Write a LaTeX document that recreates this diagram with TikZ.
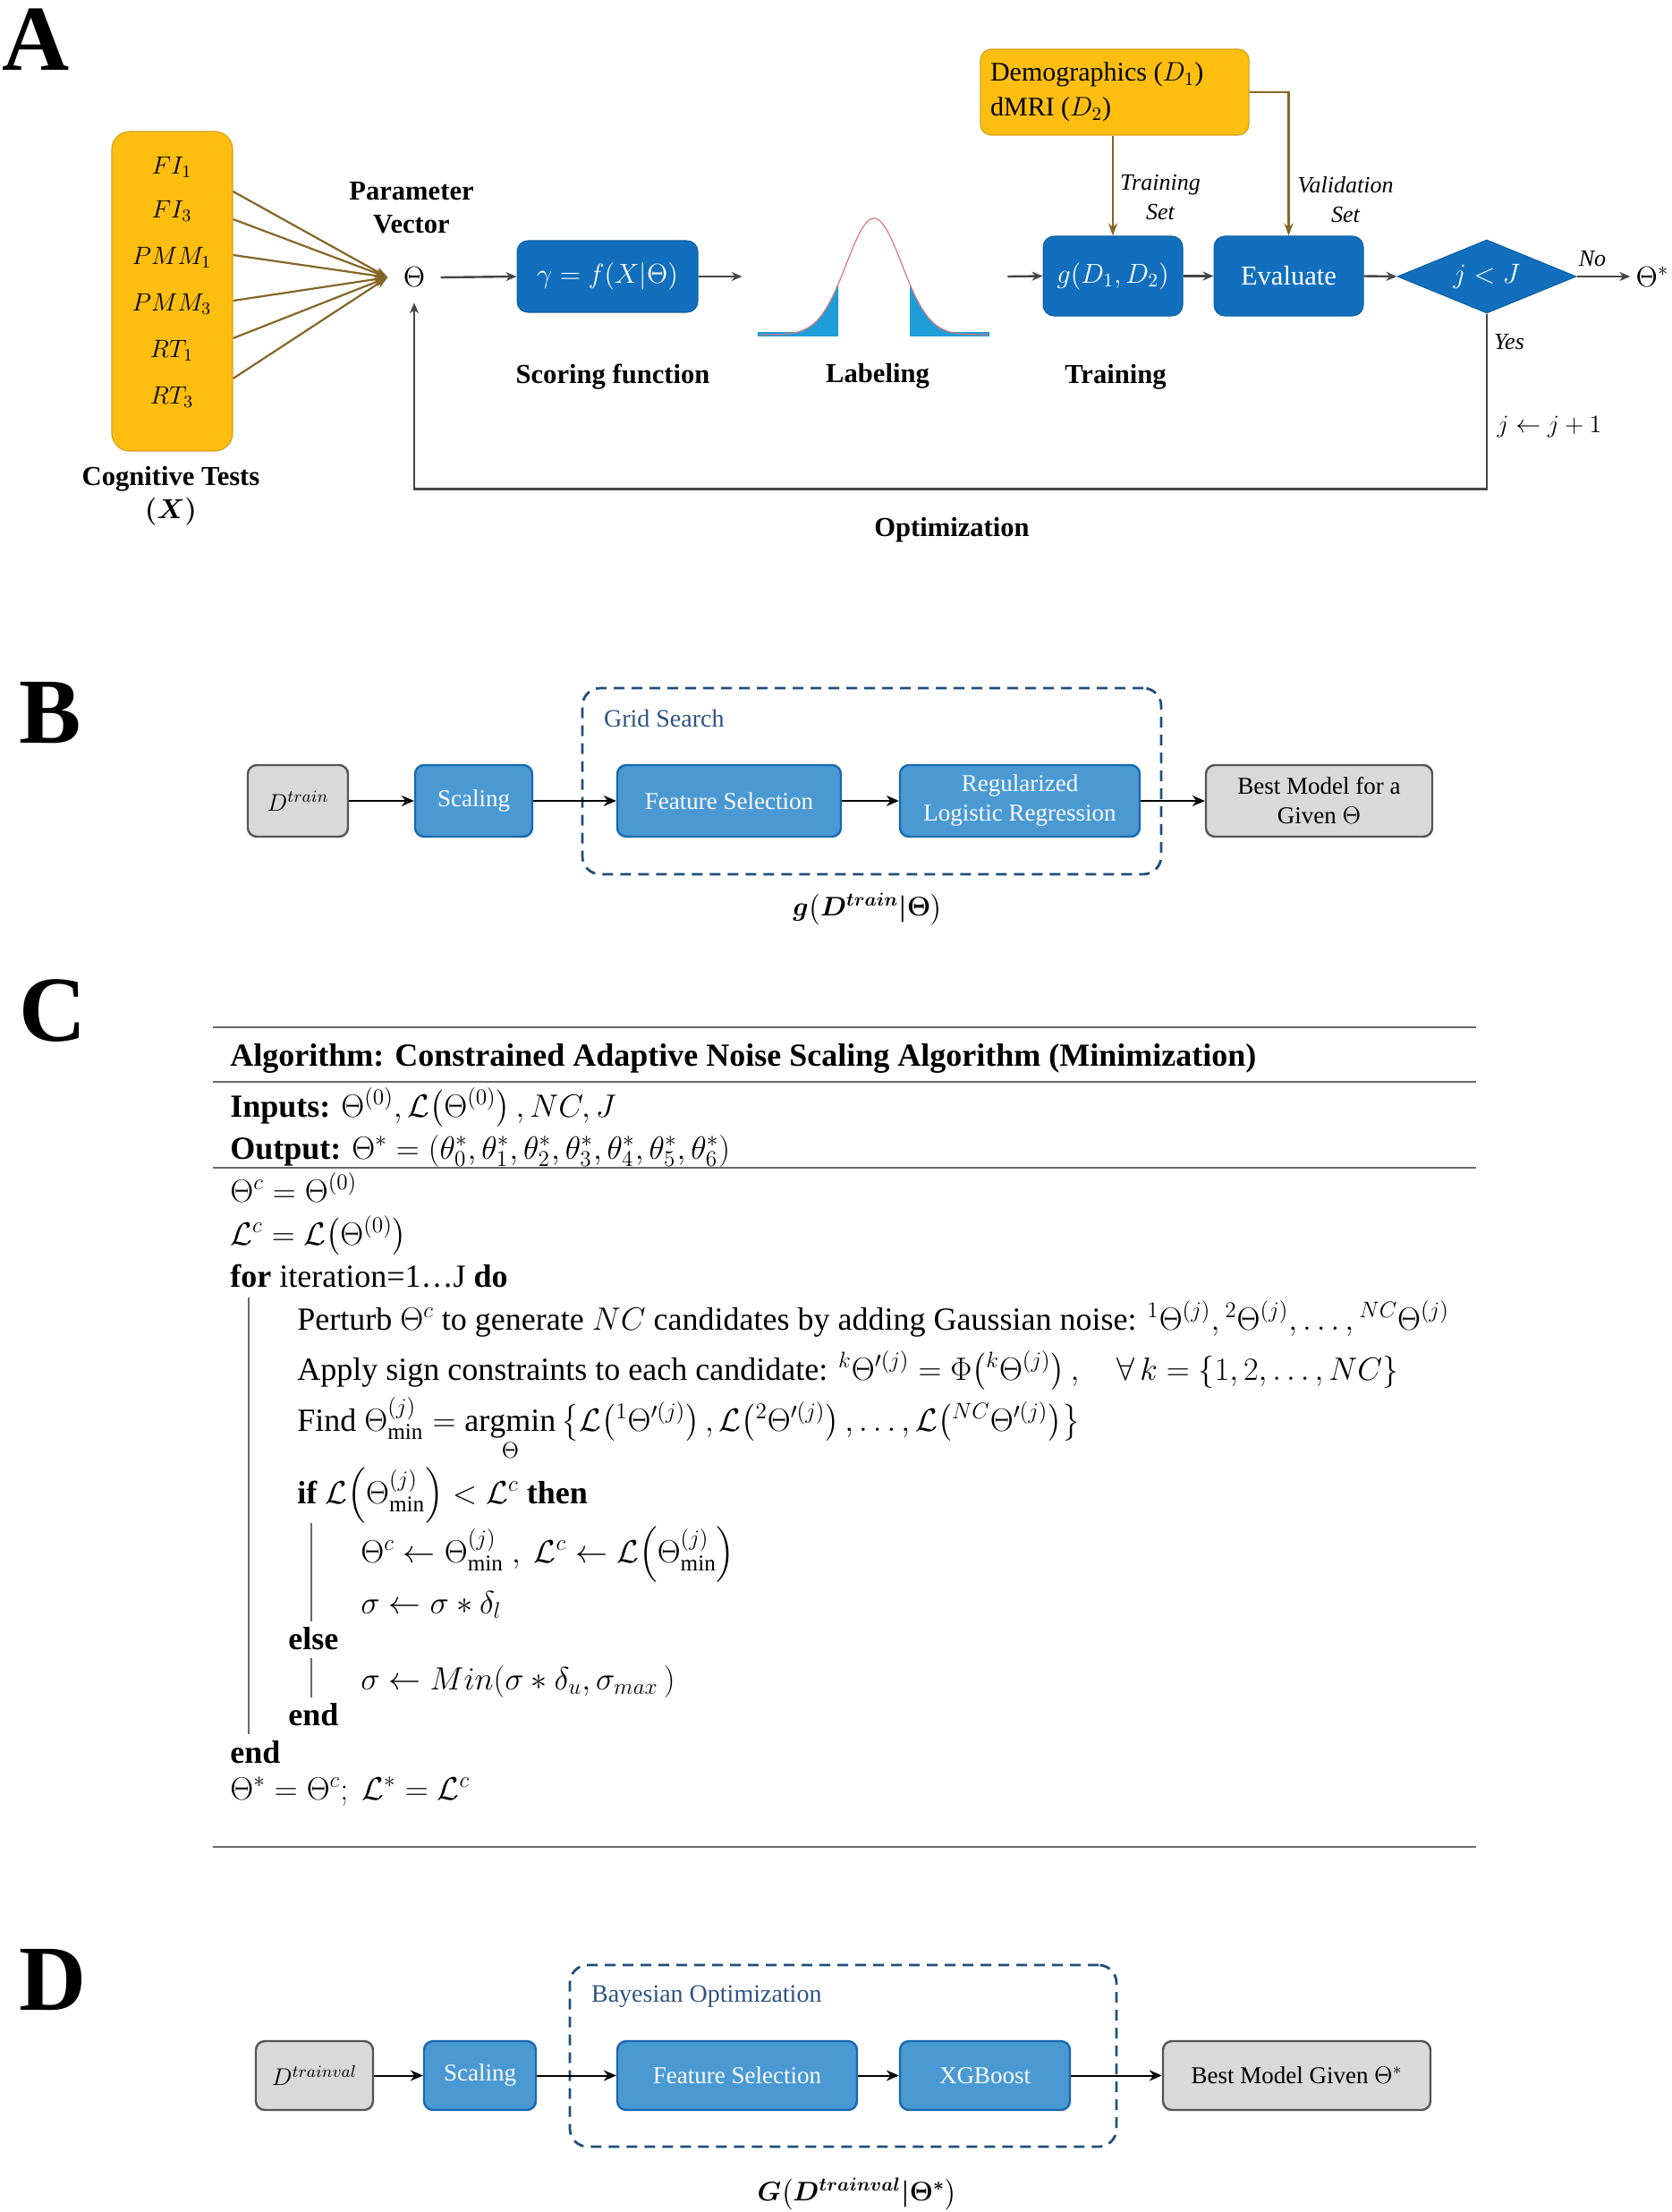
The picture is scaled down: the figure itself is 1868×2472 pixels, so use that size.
\RequirePackage{fix-cm}
\documentclass[tikz,border=0pt]{standalone}
\usepackage{amsmath}
\usepackage{fontspec}
\setmainfont{Liberation Serif}
\usetikzlibrary{arrows.meta,shapes.geometric}
\definecolor{cY}{RGB}{253,190,16}
\definecolor{cYb}{RGB}{214,160,30}
\definecolor{cBr}{RGB}{133,102,38}
\definecolor{cA}{RGB}{17,111,189}
\definecolor{cAr}{RGB}{70,70,70}
\definecolor{cLB}{RGB}{74,153,211}
\definecolor{cLBb}{RGB}{25,104,178}
\definecolor{cG}{RGB}{217,217,217}
\definecolor{cGb}{RGB}{85,85,85}
\definecolor{cDash}{RGB}{31,78,121}
\definecolor{cGT}{RGB}{46,84,128}
\definecolor{cBell}{RGB}{30,157,217}
\definecolor{cBellR}{RGB}{215,120,120}
\definecolor{cRule}{RGB}{105,105,105}
\newcommand\fsz[2]{\fontsize{#1}{#2}\selectfont}
\newcommand\Lpar{\mathopen{}\left(}
\newcommand\Rpar{\right)}
\newcommand\glabtext{{\boldmath$g\Lpar D^{train}\vert\Theta\Rpar$}}
\newcommand\Glabtext{{\boldmath$G\Lpar D^{trainval}\vert\Theta^{*}\Rpar$}}
\begin{document}
\begin{tikzpicture}[x=0.5pt,y=-0.5pt,
  panel/.style={font=\bfseries\fsz{52}{52}, inner sep=0pt},
  lab/.style={font=\bfseries\fsz{15.3}{18.5}, align=center},
  ablue/.style={rectangle, rounded corners=6pt, fill=cA, draw=cA!85!black, line width=0.5pt, text=white, inner sep=0pt, font=\fsz{15.3}{18}},
  aarrow/.style={draw=cAr, line width=1.2pt, -{Stealth[length=6pt,width=5pt]}},
  brline/.style={draw=cBr, line width=1.1pt, -{Stealth[length=7pt,width=5pt]}},
  cogl/.style={font=\fsz{14}{16}},
  bbox/.style={rectangle, rounded corners=5pt, fill=cLB, draw=cLBb, line width=1.2pt, text=white!97!cLB, inner sep=0pt, align=center, font=\fsz{13.5}{16.5}},
  gbox/.style={rectangle, rounded corners=5pt, fill=cG, draw=cGb, line width=1.2pt, text=black, inner sep=0pt, align=center, font=\fsz{13.5}{16.5}},
  barrow/.style={draw=black, line width=1pt, -{Stealth[length=7pt,width=6pt]}},
  dashbox/.style={rectangle, rounded corners=10pt, draw=cDash, line width=1.4pt, dash pattern=on 6pt off 4pt, inner sep=0pt},
  alg/.style={anchor=base west, inner sep=0pt, font=\fsz{18}{22}},
  vbar/.style={draw=cRule, line width=0.6pt},
  hrule/.style={draw=cRule, line width=1.3pt}
]
\useasboundingbox (0,0) rectangle (1868,2472);

% ================= Panel A =================
\node[panel] (pA) at (40,44) {A};

\node[rectangle, rounded corners=10pt, fill=cY, draw=cYb, line width=0.6pt, minimum width=67.5pt, minimum height=178.5pt, inner sep=0pt] (cog) at (192.5,325.5) {};
\node[cogl] (fi1) at (192,187) {$FI_1$};
\node[cogl] (fi3) at (192,236) {$FI_3$};
\node[cogl] (pmm1) at (192,288) {$PMM_1$};
\node[cogl] (pmm3) at (192,340) {$PMM_3$};
\node[cogl] (rt1) at (192,392) {$RT_1$};
\node[cogl] (rt3) at (192,444) {$RT_3$};
\node[lab] (cogtxt) at (191,554) {Cognitive Tests\\{\boldmath$(X)$}};

\node[inner sep=8.5pt, font=\fsz{16}{18}] (theta) at (463,310) {$\Theta$};
\node[lab] (param) at (460,232) {Parameter\\Vector};

\foreach \s in {55.75,40.25,20.25,-5.25,-26.25,-48.75}
  \draw[brline] ([yshift=\s pt]cog.east) -- (theta.west);

\node[ablue, minimum width=101pt, minimum height=40pt] (gam) at (679,309) {$\gamma = f(X\vert\Theta)$};
\node[lab] (lscore) at (685,421) {Scoring function};

% bell curve
\node[minimum width=148pt, minimum height=70pt, inner sep=0pt] (bell) at (978,309) {};
\fill[cBell] (847,375) -- plot[domain=847:937,samples=50] (\x,{374-130*exp(-0.5*((\x-977)/31)*((\x-977)/31))}) -- (937,375) -- cycle;
\fill[cBell] (1017,375) -- plot[domain=1017:1106,samples=50] (\x,{374-130*exp(-0.5*((\x-977)/31)*((\x-977)/31))}) -- (1106,375) -- cycle;
\fill[cBell] (847,371) rectangle (937,376);
\fill[cBell] (1017,371) rectangle (1106,376);
\draw[cBellR, line width=0.6pt] plot[domain=850:1104,samples=120] (\x,{374-130*exp(-0.5*((\x-977)/31)*((\x-977)/31))});
\node[lab] (llab) at (981,420) {Labeling};

\node[ablue, minimum width=78pt, minimum height=44.5pt] (g) at (1244,308.5) {$g(D_1,D_2)$};
\node[ablue, minimum width=83.5pt, minimum height=44.5pt] (eval) at (1440.5,308.5) {Evaluate};
\node[diamond, aspect=2.2, fill=cA, draw=cA!85!black, line width=0.5pt, text=white, minimum width=100pt, minimum height=41pt, inner sep=0pt, font=\fsz{15.5}{18}] (dia) at (1662,309) {$j<J$};
\node[inner sep=3pt, font=\fsz{16}{18}] (tstar) at (1847,309) {$\Theta^{*}$};
\node[lab] (ltrain) at (1247,421) {Training};

\node[rectangle, rounded corners=6pt, fill=cY, draw=cYb, line width=0.6pt, minimum width=150pt, minimum height=48pt, inner sep=0pt] (demo) at (1246,103) {};
\node[anchor=west, align=left, font=\fsz{15}{19.5}] (demotxt) at (1100,103) {Demographics ($D_1$)\\dMRI ($D_2$)};

\draw[brline] (g.north |- demo.south) -- (g.north);
\draw[brline] (demo.east) -| (eval.north);
\node[align=center, font=\itshape\fsz{13}{16.5}] (trset) at (1297,221) {Training\\Set};
\node[align=center, font=\itshape\fsz{13}{16.5}] (valset) at (1504,223) {Validation\\Set};

\draw[aarrow] (theta.east) -- (gam.west);
\draw[aarrow] (gam.east) -- (bell.west);
\draw[aarrow] (bell.east) -- (g.west);
\draw[aarrow] (g.east) -- (eval.west);
\draw[aarrow] (eval.east) -- (dia.west);
\draw[aarrow] (dia.east) -- (tstar.west);
\node[font=\itshape\fsz{13}{16}] (no) at (1780,289) {No};
\node[font=\itshape\fsz{13}{16}] (yes) at (1687,382) {Yes};
\node[font=\fsz{14}{16}] (jinc) at (1732,477) {$j\leftarrow j+1$};
\draw[aarrow] (dia.south) -- ++(0,196) -| (theta.south);
\node[lab] (lopt) at (1064,592) {Optimization};

% ================= Panel B =================
\node[panel] (pB) at (56,797) {B};
\node[dashbox, minimum width=323.5pt, minimum height=104pt] (grid) at (974.5,873) {};
\node[anchor=west, text=cGT, font=\fsz{14}{16}] (gridl) at (668,803) {Grid Search};
\node[gbox, minimum width=56pt, minimum height=40pt] (dtr) at (333,895) {$D^{train}$};
\node[bbox, minimum width=65.5pt, minimum height=40pt] (sc) at (529.5,895) {Scaling};
\node[bbox, minimum width=125pt, minimum height=40pt] (fs) at (815,895) {Feature Selection};
\node[bbox, minimum width=134pt, minimum height=40pt] (lr) at (1140,895) {Regularized\\Logistic Regression};
\node[gbox, minimum width=126.5pt, minimum height=40pt] (bm) at (1474.5,895) {Best Model for a\\Given $\Theta$};
\draw[barrow] (dtr.east) -- (sc.west);
\draw[barrow] (sc.east) -- (fs.west);
\draw[barrow] (fs.east) -- (lr.west);
\draw[barrow] (lr.east) -- (bm.west);
\node[font=\fsz{15}{18}] (glab) at (970,1016) {\glabtext};

% ================= Panel C =================
\node[panel] (pC) at (59,1130) {C};
\draw[hrule] (238,1148) -- (1650,1148);
\draw[hrule] (238,1209) -- (1650,1209);
\draw[hrule] (238,1305) -- (1650,1305);
\draw[hrule] (238,2064) -- (1650,2064);
\node[alg] (al1) at (257,1191) {\textbf{Algorithm: Constrained Adaptive Noise Scaling Algorithm (Minimization)}};
\node[alg] (al2) at (257,1248) {\textbf{Inputs:} $\Theta^{(0)}, \mathcal{L}\Lpar\Theta^{(0)}\Rpar, NC, J$};
\node[alg] (al3) at (257,1295) {\textbf{Output:} $\Theta^{*} = (\theta_0^{*}, \theta_1^{*}, \theta_2^{*}, \theta_3^{*}, \theta_4^{*}, \theta_5^{*}, \theta_6^{*})$};
\node[alg] (al4) at (257,1343) {$\Theta^{c} = \Theta^{(0)}$};
\node[alg] (al5) at (257,1391) {$\mathcal{L}^{c} = \mathcal{L}\Lpar\Theta^{(0)}\Rpar$};
\node[alg] (al6) at (257,1438) {\textbf{for} iteration=1\ldots J \textbf{do}};
\node[alg] (al7) at (332,1486) {Perturb $\Theta^{c}$ to generate $NC$ candidates by adding Gaussian noise: ${}^{1}\Theta^{(j)}, {}^{2}\Theta^{(j)}, \dots, {}^{NC}\Theta^{(j)}$};
\node[alg] (al8) at (332,1542) {Apply sign constraints to each candidate: ${}^{k}\Theta'^{(j)} = \Phi\Lpar{}^{k}\Theta^{(j)}\Rpar, \quad \forall\, k = \{1, 2, \dots, NC\}$};
\node[alg] (al9) at (332,1599) {Find $\Theta^{(j)}_{\min} = \mathop{\mathrm{argmin}}\limits_{\Theta} \left\{\mathcal{L}\Lpar{}^{1}\Theta'^{(j)}\Rpar, \mathcal{L}\Lpar{}^{2}\Theta'^{(j)}\Rpar, \dots, \mathcal{L}\Lpar{}^{NC}\Theta'^{(j)}\Rpar\right\}$};
\node[alg] (al10) at (332,1680) {\textbf{if} $\mathcal{L}\Lpar\Theta^{(j)}_{\min}\Rpar < \mathcal{L}^{c}$ \textbf{then}};
\node[alg] (al11) at (403,1746) {$\Theta^{c} \leftarrow \Theta^{(j)}_{\min}\ ,\ \mathcal{L}^{c} \leftarrow \mathcal{L}\Lpar\Theta^{(j)}_{\min}\Rpar$};
\node[alg] (al12) at (403,1803) {$\sigma \leftarrow \sigma * \delta_{l}$};
\node[alg] (al13) at (322,1843) {\textbf{else}};
\node[alg] (al14) at (403,1888) {$\sigma \leftarrow Min(\sigma * \delta_{u}, \sigma_{max}\,)$};
\node[alg] (al15) at (322,1928) {\textbf{end}};
\node[alg] (al16) at (257,1970) {\textbf{end}};
\node[alg] (al17) at (257,2011) {$\Theta^{*} = \Theta^{c};\ \mathcal{L}^{*} = \mathcal{L}^{c}$};
\draw[vbar] (278,1450) -- (278,1938);
\draw[vbar] (348,1702) -- (348,1812);
\draw[vbar] (348,1853) -- (348,1897);

% ================= Panel D =================
\node[panel] (pD) at (59,2213) {D};
\node[dashbox, minimum width=305.5pt, minimum height=101.5pt] (bayes) at (942.5,2297.5) {};
\node[anchor=west, text=cGT, font=\fsz{14}{16}] (bayesl) at (654,2231) {Bayesian Optimization};
\node[gbox, minimum width=65.5pt, minimum height=38.5pt] (dtv) at (351.5,2319.5) {$D^{trainval}$};
\node[bbox, minimum width=62.5pt, minimum height=38.5pt] (sc2) at (536.5,2319.5) {Scaling};
\node[bbox, minimum width=134pt, minimum height=38.5pt] (fs2) at (824,2319.5) {Feature Selection};
\node[bbox, minimum width=95pt, minimum height=38.5pt] (xgb) at (1101,2319.5) {XGBoost};
\node[gbox, minimum width=149.5pt, minimum height=38.5pt] (bm2) at (1449.5,2319.5) {Best Model Given $\Theta^{*}$};
\draw[barrow] (dtv.east) -- (sc2.west);
\draw[barrow] (sc2.east) -- (fs2.west);
\draw[barrow] (fs2.east) -- (xgb.west);
\draw[barrow] (xgb.east) -- (bm2.west);
\node[font=\fsz{15}{18}] (Glab) at (958,2452) {\Glabtext};
\end{tikzpicture}
\end{document}
